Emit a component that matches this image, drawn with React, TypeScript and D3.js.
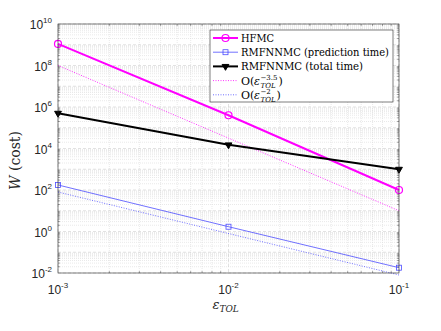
import * as d3 from 'd3'

// tolerance values (x)
const TOL = [1e-3, 1e-2, 1e-1]

// cost series
const HFMC = [1.1e9, 4e5, 1e2]
const PRED = [175, 1.7, 0.018]
const TOTAL = [5e5, 1.5e4, 1e3]

// reference slopes (two end points each)
const REF_TOL = [1e-3, 1e-1]
const REF_35 = [1e8, 10]
const REF_2 = [80, 0.008]

const X_TICKS = [-3, -2, -1]
const Y_TICKS = [-2, 0, 2, 4, 6, 8, 10]

const W = 441
const H = 331
const M = { top: 24, right: 42, bottom: 58, left: 58 }

const MAGENTA = '#ff00ff'
const BLUE = '#4d4dff'

export default function App() {
  const iw = W - M.left - M.right
  const ih = H - M.top - M.bottom

  const x = d3.scaleLog().domain([1e-3, 1e-1]).range([0, iw])
  const y = d3.scaleLog().domain([1e-2, 1e10]).range([ih, 0])

  const line = d3.line<[number, number]>()
    .x(d => x(d[0]))
    .y(d => y(d[1]))

  const zip = (xs: number[], ys: number[]) => xs.map((v, i) => [v, ys[i]] as [number, number])

  // minor grid values
  const xMinor: number[] = []
  for (let e = -3; e < -1; e++) for (let k = 2; k <= 9; k++) xMinor.push(k * Math.pow(10, e))
  const yMinor: number[] = []
  for (let e = -2; e < 10; e++) for (let k = 2; k <= 9; k++) yMinor.push(k * Math.pow(10, e))

  const tri = d3.symbol().type(d3.symbolTriangle).size(20)()

  const legend = [
    { label: 'HFMC', color: MAGENTA, width: 2, dash: undefined, marker: 'circle', len: 33 },
    { label: 'RMFNNMC (prediction time)', color: BLUE, width: 0.8, dash: undefined, marker: 'square', len: 148 },
    { label: 'RMFNNMC (total time)', color: '#000', width: 2, dash: undefined, marker: 'tri', len: 122 },
    { label: 'ref35', color: MAGENTA, width: 0.8, dash: '1,1.5', marker: null, len: 0 },
    { label: 'ref2', color: BLUE, width: 0.8, dash: '1,1.5', marker: null, len: 0 },
  ]

  const marker = (kind: string | null, cx: number, cy: number, color: string, key: string) => {
    if (kind === 'circle') return <circle key={key} cx={cx} cy={cy} r={3.5} fill="none" stroke={color} strokeWidth={1.2} />
    if (kind === 'square') return <rect key={key} x={cx - 2.5} y={cy - 2.5} width={5} height={5} fill="none" stroke={color} strokeWidth={0.8} />
    if (kind === 'tri') return <path key={key} d={tri!} transform={`translate(${cx},${cy}) rotate(180)`} fill="#000" stroke="#000" strokeWidth={1} />
    return null
  }

  const serif = 'DejaVu Serif, serif'
  const sans = 'Liberation Sans, Arial, sans-serif'

  const orderLabel = (exp: string, cy: number) => (
    <g transform={`translate(31,${cy + 4})`} fontFamily={serif} fill="#000">
      <text x={0} y={0} fontSize={11}>O(</text>
      <text x={13} y={0} fontSize={11} fontStyle="italic">ε</text>
      <text x={19.5} y={-4.5} fontSize={7}>{exp}</text>
      <text x={19.5} y={3} fontSize={7} fontStyle="italic">TOL</text>
      <text x={exp.length > 2 ? 37.5 : 35.5} y={0} fontSize={11}>)</text>
    </g>
  )

  return (
    <svg width={W} height={H} style={{ position: 'absolute', left: 0, top: 0, background: '#fff' }}>
      <g transform={`translate(${M.left},${M.top})`}>
        {/* minor grid */}
        {xMinor.map((v, i) => (
          <line key={`xm${i}`} x1={x(v)} x2={x(v)} y1={0} y2={ih} stroke="#dadada" strokeWidth={0.6} strokeDasharray="1,1" />
        ))}
        {yMinor.map((v, i) => (
          <line key={`ym${i}`} x1={0} x2={iw} y1={y(v)} y2={y(v)} stroke="#dadada" strokeWidth={0.6} strokeDasharray="1,1" />
        ))}
        {/* major grid (every decade) */}
        {X_TICKS.map(e => (
          <line key={`xg${e}`} x1={x(Math.pow(10, e))} x2={x(Math.pow(10, e))} y1={0} y2={ih} stroke="#cfcfcf" strokeWidth={0.6} strokeDasharray="3,2" />
        ))}
        {d3.range(-2, 11).map(e => (
          <line key={`yg${e}`} x1={0} x2={iw} y1={y(Math.pow(10, e))} y2={y(Math.pow(10, e))} stroke="#cfcfcf" strokeWidth={0.6} strokeDasharray="3,2" />
        ))}

        {/* tick marks */}
        {xMinor.map((v, i) => (
          <g key={`xt${i}`} stroke="#555" strokeWidth={0.5}>
            <line x1={x(v)} x2={x(v)} y1={ih} y2={ih - 2} />
            <line x1={x(v)} x2={x(v)} y1={0} y2={2} />
          </g>
        ))}
        {yMinor.map((v, i) => (
          <g key={`yt${i}`} stroke="#555" strokeWidth={0.5}>
            <line x1={0} x2={2} y1={y(v)} y2={y(v)} />
            <line x1={iw} x2={iw - 2} y1={y(v)} y2={y(v)} />
          </g>
        ))}

        {/* reference lines */}
        <path d={line(zip(REF_TOL, REF_35))!} fill="none" stroke={MAGENTA} strokeWidth={0.8} strokeDasharray="1,1.5" />
        <path d={line(zip(REF_TOL, REF_2))!} fill="none" stroke={BLUE} strokeWidth={0.8} strokeDasharray="1,1.5" />

        {/* series */}
        <path d={line(zip(TOL, PRED))!} fill="none" stroke={BLUE} strokeWidth={0.8} />
        {TOL.map((t, i) => marker('square', x(t), y(PRED[i]), BLUE, `ps${i}`))}
        <path d={line(zip(TOL, HFMC))!} fill="none" stroke={MAGENTA} strokeWidth={2} />
        {TOL.map((t, i) => marker('circle', x(t), y(HFMC[i]), MAGENTA, `hs${i}`))}
        <path d={line(zip(TOL, TOTAL))!} fill="none" stroke="#000" strokeWidth={2} />
        {TOL.map((t, i) => marker('tri', x(t), y(TOTAL[i]), '#000', `ts${i}`))}

        {/* box */}
        <rect x={0} y={0} width={iw} height={ih} fill="none" stroke="#262626" strokeWidth={0.6} />

        {/* x tick labels */}
        {X_TICKS.map(e => (
          <text key={`xl${e}`} x={x(Math.pow(10, e))} y={ih + 21} fontFamily={sans} fontSize={12} fill="#262626" textAnchor="middle">
            10<tspan dy={-6} fontSize={8}>{e}</tspan>
          </text>
        ))}
        {/* y tick labels */}
        {Y_TICKS.map(e => (
          <text key={`yl${e}`} x={-6} y={y(Math.pow(10, e)) + 5} fontFamily={sans} fontSize={12} fill="#262626" textAnchor="end">
            10<tspan dy={-6} fontSize={8}>{e}</tspan>
          </text>
        ))}

        {/* legend */}
        <g transform={`translate(${210 - M.left},${30 - M.top})`}>
          <rect x={0} y={0} width={183} height={72} fill="#fff" stroke="#262626" strokeWidth={0.6} />
          {legend.map((l, i) => {
            const cy = 8 + i * 14.2
            return (
              <g key={`lg${i}`}>
                <line x1={3} x2={28} y1={cy} y2={cy} stroke={l.color} strokeWidth={l.width} strokeDasharray={l.dash} />
                {marker(l.marker, 15.5, cy, l.color, `lm${i}`)}
                {l.label === 'ref35' ? orderLabel('−3.5', cy)
                  : l.label === 'ref2' ? orderLabel('−2', cy)
                  : (
                    <text x={31} y={cy + 4} fontFamily={serif} fontSize={11.5} fill="#000" textLength={l.len} lengthAdjust="spacingAndGlyphs">{l.label}</text>
                  )}
              </g>
            )
          })}
        </g>

        {/* axis labels */}
        <text x={iw / 2 - 16} y={ih + 36} fontFamily={serif} fontSize={13} fontStyle="italic" fill="#262626">
          ε<tspan fontSize={9} dy={3}>TOL</tspan>
        </text>
        <text transform={`translate(${-38},${ih / 2 + 12}) rotate(-90)`} fontFamily={serif} fontSize={14} fill="#262626" textAnchor="middle">
          <tspan fontStyle="italic">W</tspan> (cost)
        </text>
      </g>
    </svg>
  )
}
